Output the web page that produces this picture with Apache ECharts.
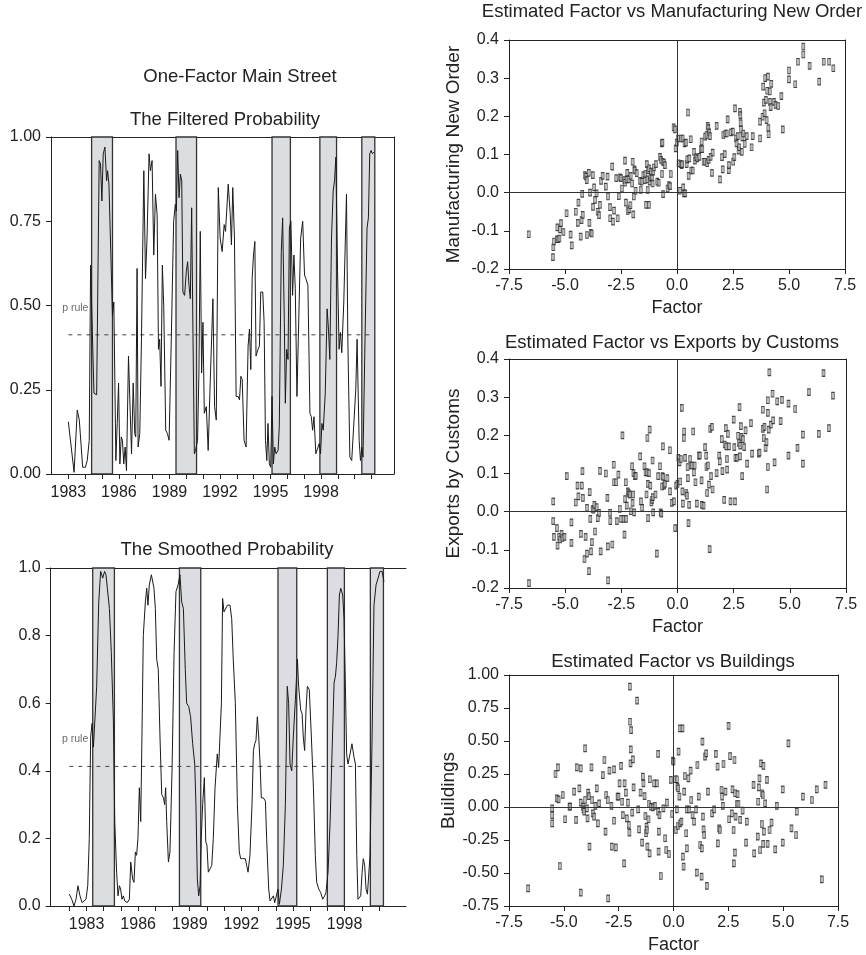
<!DOCTYPE html>
<html>
<head>
<meta charset="utf-8">
<script src="https://cdn.jsdelivr.net/npm/echarts@6/dist/echarts.min.js"></script>
<style>
html,body{margin:0;padding:0;background:#fff;}
#chart{width:866px;height:955px;}
</style>
</head>
<body>
<div id="chart"></div>
<script>
// ---------------- DATA ----------------
const filteredTicks = [1983,1984,1985,1986,1987,1988,1989,1990,1991,1992,1993,1994,1995,1996,1997,1998,1999,2000,2001];
const filteredLabels = [1983,1986,1989,1992,1995,1998];
const smoothedTicks = [1982,1983,1984,1985,1986,1987,1988,1989,1990,1991,1992,1993,1994,1995,1996,1997,1998,1999,2000];
const smoothedLabels = [1983,1986,1989,1992,1995,1998];
const pRule = 0.413;

const filteredRecessions = [[1984.38,1985.62],[1989.39,1990.61],[1995.09,1996.18],[1997.93,1998.92],[2000.42,2001.19]];
const smoothedRecessions = [[1983.36,1984.62],[1988.40,1989.64],[1994.13,1995.22],[1997.00,1997.99],[1999.50,2000.26]];

const filteredProb = [[1983.00,0.155],[1983.34,0.005],[1983.53,0.19],[1983.65,0.16],[1983.73,0.155],[1983.85,0.02],[1984.01,0.02],[1984.12,0.04],[1984.24,0.10],[1984.32,0.62],[1984.52,0.24],[1984.68,0.235],[1984.83,0.93],[1984.91,0.92],[1984.99,0.81],[1985.07,0.95],[1985.17,0.97],[1985.27,0.87],[1985.33,0.90],[1985.41,0.86],[1985.49,0.86],[1985.62,0.47],[1985.70,0.51],[1985.82,0.04],[1985.90,0.15],[1985.98,0.27],[1986.06,0.03],[1986.14,0.11],[1986.21,0.10],[1986.29,0.03],[1986.37,0.08],[1986.45,0.01],[1986.57,0.35],[1986.65,0.22],[1986.75,0.06],[1986.85,0.27],[1986.94,0.12],[1987.00,0.11],[1987.08,0.61],[1987.14,0.08],[1987.24,0.12],[1987.34,0.40],[1987.48,0.90],[1987.58,0.58],[1987.67,0.70],[1987.79,0.95],[1987.87,0.90],[1987.97,0.93],[1988.07,0.65],[1988.17,0.83],[1988.27,0.77],[1988.35,0.37],[1988.42,0.40],[1988.50,0.26],[1988.58,0.62],[1988.66,0.50],[1988.78,0.13],[1988.88,0.12],[1988.98,0.10],[1989.11,0.40],[1989.25,0.75],[1989.35,0.80],[1989.41,0.78],[1989.49,0.96],[1989.57,0.82],[1989.65,0.89],[1989.73,0.87],[1989.80,0.54],[1989.90,0.53],[1990.00,0.60],[1990.08,0.63],[1990.16,0.56],[1990.24,0.52],[1990.32,0.79],[1990.40,0.40],[1990.48,0.06],[1990.55,0.07],[1990.67,0.10],[1990.75,0.30],[1990.83,0.72],[1990.91,0.30],[1990.99,0.45],[1991.07,0.18],[1991.19,0.20],[1991.30,0.07],[1991.42,0.27],[1991.58,0.52],[1991.68,0.20],[1991.78,0.16],[1991.90,0.85],[1992.01,0.70],[1992.13,0.66],[1992.25,0.74],[1992.33,0.72],[1992.49,0.86],[1992.61,0.77],[1992.68,0.68],[1992.76,0.85],[1992.86,0.70],[1992.96,0.23],[1993.08,0.23],[1993.16,0.22],[1993.24,0.29],[1993.32,0.28],[1993.43,0.10],[1993.55,0.08],[1993.67,0.38],[1993.75,0.43],[1993.83,0.31],[1993.91,0.58],[1993.99,0.65],[1994.07,0.69],[1994.14,0.35],[1994.26,0.37],[1994.34,0.38],[1994.42,0.54],[1994.54,0.54],[1994.62,0.45],[1994.70,0.10],[1994.78,0.04],[1994.85,0.15],[1994.93,0.03],[1995.01,0.02],[1995.09,0.23],[1995.17,0.03],[1995.25,0.08],[1995.33,0.06],[1995.45,0.07],[1995.52,0.14],[1995.64,0.66],[1995.72,0.76],[1995.82,0.45],[1995.88,0.21],[1995.96,0.37],[1996.04,0.34],[1996.12,0.73],[1996.21,0.75],[1996.31,0.53],[1996.39,0.65],[1996.47,0.55],[1996.57,0.23],[1996.65,0.40],[1996.79,0.70],[1996.91,0.75],[1997.02,0.59],[1997.10,0.58],[1997.22,0.56],[1997.34,0.18],[1997.42,0.17],[1997.50,0.13],[1997.58,0.17],[1997.69,0.06],[1997.79,0.055],[1997.89,0.09],[1997.97,0.06],[1998.05,0.15],[1998.13,0.13],[1998.25,0.24],[1998.36,0.49],[1998.44,0.43],[1998.52,0.34],[1998.62,0.70],[1998.72,0.84],[1998.80,0.87],[1998.88,0.94],[1998.98,0.60],[1999.07,0.37],[1999.15,0.42],[1999.23,0.36],[1999.35,0.51],[1999.43,0.51],[1999.51,0.83],[1999.59,0.40],[1999.71,0.05],[1999.82,0.04],[1999.90,0.04],[2000.06,0.25],[2000.14,0.40],[2000.26,0.10],[2000.34,0.04],[2000.42,0.08],[2000.49,0.05],[2000.61,0.40],[2000.73,0.73],[2000.81,0.76],[2000.89,0.95],[2000.97,0.96],[2001.05,0.95],[2001.13,0.955]];

const smoothedProb = [[1982.00,0.035],[1982.14,0.02],[1982.27,0.0],[1982.39,0.02],[1982.50,0.06],[1982.62,0.03],[1982.74,0.01],[1982.85,0.01],[1982.97,0.02],[1983.07,0.06],[1983.16,0.20],[1983.24,0.50],[1983.32,0.54],[1983.40,0.47],[1983.49,0.47],[1983.59,0.65],[1983.71,0.90],[1983.82,0.99],[1983.94,0.97],[1984.05,0.99],[1984.13,0.98],[1984.21,0.94],[1984.33,0.88],[1984.44,0.75],[1984.56,0.55],[1984.64,0.25],[1984.75,0.10],[1984.83,0.03],[1984.91,0.06],[1984.98,0.05],[1985.06,0.02],[1985.14,0.03],[1985.22,0.015],[1985.29,0.02],[1985.37,0.01],[1985.49,0.02],[1985.57,0.13],[1985.68,0.08],[1985.76,0.07],[1985.84,0.16],[1985.91,0.15],[1985.99,0.20],[1986.07,0.35],[1986.15,0.25],[1986.22,0.50],[1986.30,0.80],[1986.42,0.90],[1986.50,0.94],[1986.57,0.89],[1986.65,0.95],[1986.77,0.98],[1986.84,0.98],[1986.92,0.94],[1987.00,0.88],[1987.08,0.73],[1987.17,0.70],[1987.27,0.50],[1987.37,0.33],[1987.47,0.32],[1987.54,0.30],[1987.60,0.35],[1987.66,0.25],[1987.76,0.13],[1987.85,0.16],[1987.97,0.40],[1988.09,0.75],[1988.20,0.93],[1988.32,0.95],[1988.43,0.98],[1988.53,0.90],[1988.63,0.88],[1988.74,0.70],[1988.82,0.60],[1988.94,0.59],[1989.05,0.56],[1989.17,0.48],[1989.29,0.42],[1989.36,0.30],[1989.44,0.08],[1989.52,0.03],[1989.60,0.06],[1989.67,0.20],[1989.75,0.30],[1989.85,0.38],[1989.93,0.19],[1990.00,0.18],[1990.08,0.10],[1990.18,0.11],[1990.28,0.12],[1990.37,0.20],[1990.47,0.35],[1990.60,0.45],[1990.68,0.41],[1990.76,0.41],[1990.84,0.60],[1990.91,0.91],[1990.99,0.87],[1991.07,0.87],[1991.19,0.89],[1991.34,0.89],[1991.44,0.85],[1991.53,0.73],[1991.65,0.60],[1991.77,0.30],[1991.88,0.16],[1991.96,0.14],[1992.08,0.14],[1992.23,0.14],[1992.31,0.12],[1992.39,0.10],[1992.50,0.15],[1992.62,0.30],[1992.70,0.46],[1992.78,0.48],[1992.85,0.49],[1992.93,0.56],[1993.01,0.50],[1993.09,0.42],[1993.16,0.32],[1993.28,0.32],[1993.40,0.31],[1993.47,0.20],[1993.59,0.05],[1993.67,0.015],[1993.78,0.01],[1993.86,0.03],[1993.94,0.01],[1994.05,0.015],[1994.13,0.05],[1994.21,0.005],[1994.33,0.05],[1994.44,0.12],[1994.56,0.30],[1994.67,0.65],[1994.75,0.60],[1994.83,0.42],[1994.93,0.40],[1995.02,0.50],[1995.14,0.61],[1995.26,0.73],[1995.33,0.65],[1995.45,0.58],[1995.53,0.57],[1995.60,0.50],[1995.68,0.46],[1995.76,0.58],[1995.84,0.65],[1995.95,0.64],[1996.07,0.50],[1996.19,0.35],[1996.30,0.15],[1996.38,0.07],[1996.50,0.05],[1996.61,0.04],[1996.73,0.02],[1996.84,0.03],[1996.92,0.04],[1997.04,0.10],[1997.16,0.25],[1997.27,0.45],[1997.39,0.66],[1997.47,0.68],[1997.54,0.72],[1997.62,0.80],[1997.70,0.92],[1997.78,0.94],[1997.89,0.92],[1997.97,0.85],[1998.05,0.65],[1998.12,0.45],[1998.20,0.42],[1998.32,0.45],[1998.43,0.48],[1998.55,0.44],[1998.63,0.42],[1998.71,0.15],[1998.78,0.02],[1998.86,0.015],[1998.94,0.03],[1999.02,0.10],[1999.09,0.14],[1999.17,0.12],[1999.25,0.05],[1999.33,0.035],[1999.40,0.04],[1999.48,0.15],[1999.60,0.50],[1999.71,0.89],[1999.83,0.95],[1999.95,0.97],[2000.06,0.99],[2000.18,0.99],[2000.29,0.96]];

const factorTicks = [-7.5,-5.0,-2.5,0.0,2.5,5.0,7.5];

const mnoPoints = [[-6.62,-0.109],[-5.54,-0.169],[-5.52,-0.143],[-5.49,-0.128],[-5.37,-0.122],[-5.30,-0.122],[-5.25,-0.12],[-5.34,-0.091],[-5.22,-0.096],[-5.18,-0.08],[-5.07,-0.103],[-4.93,-0.054],[-4.75,-0.11],[-4.70,-0.138],[-4.52,-0.05],[-4.43,-0.079],[-4.40,-0.026],[-4.30,-0.115],[-4.26,-0.072],[-4.23,-0.003],[-4.21,-0.058],[-4.11,0.046],[-4.06,0.042],[-4.03,0.033],[-4.02,-0.111],[-3.94,0.052],[-3.91,-0.079],[-3.88,0.0],[-3.85,-0.105],[-3.81,-0.107],[-3.76,0.046],[-3.75,-0.037],[-3.70,0.014],[-3.66,-0.019],[-3.59,-0.002],[-3.54,-0.05],[-3.48,-0.059],[-3.44,-0.032],[-3.39,0.031],[-3.32,0.044],[-3.18,0.016],[-3.10,0.042],[-3.08,-0.01],[-2.99,-0.038],[-2.98,-0.067],[-2.89,0.068],[-2.86,-0.076],[-2.81,-0.047],[-2.71,0.038],[-2.65,-0.067],[-2.60,-0.009],[-2.54,0.04],[-2.50,0.038],[-2.46,0.011],[-2.35,0.033],[-2.32,0.084],[-2.32,0.026],[-2.28,-0.026],[-2.25,0.035],[-2.22,0.052],[-2.20,-0.048],[-2.16,0.035],[-2.13,-0.044],[-2.08,-0.033],[-2.07,0.044],[-2.00,0.024],[-1.98,0.081],[-1.95,-0.057],[-1.93,-0.01],[-1.90,0.061],[-1.89,0.058],[-1.85,0.005],[-1.80,0.051],[-1.65,0.031],[-1.62,0.007],[-1.58,0.029],[-1.50,0.046],[-1.44,0.033],[-1.41,0.049],[-1.38,-0.032],[-1.35,0.075],[-1.32,0.035],[-1.31,0.007],[-1.29,0.059],[-1.26,-0.032],[-1.24,0.064],[-1.22,0.029],[-1.18,0.04],[-1.15,0.055],[-1.12,0.038],[-1.09,0.024],[-1.06,0.055],[-1.03,0.066],[-0.94,0.075],[-0.88,0.029],[-0.82,0.026],[-0.76,0.094],[-0.71,0.086],[-0.68,0.129],[-0.65,0.131],[-0.67,0.049],[-0.64,0.081],[-0.62,-0.004],[-0.58,0.079],[-0.54,0.072],[-0.42,0.011],[-0.36,0.02],[-0.31,0.017],[-0.28,0.049],[-0.15,0.171],[-0.09,0.166],[-0.06,0.116],[-0.01,0.131],[0.04,0.142],[0.07,0.077],[0.13,0.005],[0.16,0.075],[0.18,0.142],[0.21,0.072],[0.22,0.075],[0.25,0.142],[0.28,0.014],[0.31,-0.002],[0.34,0.129],[0.37,-0.002],[0.40,0.131],[0.43,0.075],[0.46,0.087],[0.49,0.21],[0.52,0.044],[0.55,0.09],[0.61,0.14],[0.64,0.058],[0.70,0.058],[0.76,0.107],[0.80,0.084],[0.85,0.093],[0.91,0.09],[1.00,0.094],[1.06,0.114],[1.10,0.134],[1.13,0.114],[1.19,0.081],[1.26,0.081],[1.26,0.147],[1.32,0.151],[1.35,0.077],[1.37,0.175],[1.40,0.169],[1.41,0.086],[1.44,0.158],[1.47,0.148],[1.50,0.094],[1.56,0.052],[1.59,0.105],[1.77,0.175],[1.92,0.035],[2.01,0.093],[2.04,0.061],[2.07,0.151],[2.13,0.101],[2.16,0.155],[2.22,0.155],[2.26,0.192],[2.31,0.059],[2.32,0.072],[2.41,0.158],[2.49,0.16],[2.51,0.081],[2.56,0.093],[2.59,0.221],[2.63,0.142],[2.66,0.129],[2.71,0.148],[2.75,0.11],[2.78,0.119],[2.81,0.212],[2.83,0.203],[2.84,0.182],[2.86,0.166],[2.89,0.107],[2.92,0.145],[2.96,0.155],[3.02,0.128],[3.11,0.148],[3.33,0.119],[3.38,0.148],[3.71,0.142],[3.71,0.186],[3.82,0.199],[3.85,0.278],[3.88,0.236],[3.91,0.208],[3.94,0.30],[3.97,0.243],[4.00,0.19],[4.03,0.267],[4.06,0.304],[4.08,0.169],[4.09,0.153],[4.14,0.265],[4.15,0.238],[4.18,0.224],[4.21,0.285],[4.33,0.238],[4.40,0.23],[4.52,0.227],[4.66,0.253],[4.72,0.166],[5.00,0.32],[5.00,0.297],[5.28,0.284],[5.40,0.343],[5.64,0.383],[5.64,0.362],[5.92,0.332],[6.35,0.291],[6.55,0.343],[6.79,0.343],[6.98,0.326]];

const exportPoints = [[-6.61,-0.187],[-5.53,0.027],[-5.53,-0.025],[-5.50,-0.066],[-5.37,-0.043],[-5.34,-0.089],[-5.27,-0.066],[-5.22,-0.073],[-5.16,-0.058],[-5.12,-0.069],[-5.03,-0.066],[-4.93,0.093],[-4.72,-0.028],[-4.72,-0.082],[-4.53,0.024],[-4.45,0.068],[-4.41,0.04],[-4.30,-0.058],[-4.26,0.068],[-4.23,0.106],[-4.21,0.036],[-4.14,-0.124],[-4.09,-0.066],[-4.03,0.01],[-4.03,-0.11],[-3.94,-0.156],[-3.91,0.051],[-3.88,-0.019],[-3.85,-0.104],[-3.81,-0.08],[-3.78,0.007],[-3.74,0.005],[-3.70,0.018],[-3.67,-0.052],[-3.60,0.012],[-3.55,-0.017],[-3.49,-0.003],[-3.45,0.107],[-3.42,-0.104],[-3.19,0.10],[-3.12,0.036],[-3.10,-0.091],[-3.09,-0.18],[-3.00,-0.003],[-2.99,-0.025],[-2.90,-0.086],[-2.84,0.123],[-2.82,0.077],[-2.73,0.077],[-2.70,-0.025],[-2.63,0.097],[-2.57,0.007],[-2.51,-0.019],[-2.45,0.20],[-2.40,-0.019],[-2.36,-0.06],[-2.33,0.033],[-2.30,0.077],[-2.29,-0.019],[-2.26,0.016],[-2.21,0.053],[-2.17,0.049],[-2.14,0.045],[-2.11,0.045],[-2.08,0.001],[-2.02,0.119],[-2.00,0.023],[-1.97,0.045],[-1.96,0.101],[-1.93,-0.002],[-1.90,0.093],[-1.86,0.094],[-1.66,0.145],[-1.63,0.027],[-1.57,0.01],[-1.47,0.119],[-1.42,0.103],[-1.38,0.045],[-1.35,0.103],[-1.34,0.193],[-1.32,0.073],[-1.31,-0.017],[-1.27,0.101],[-1.24,0.215],[-1.21,0.068],[-1.16,0.024],[-1.13,0.031],[-1.11,0.134],[-1.10,0.038],[-1.08,-0.002],[-0.98,0.045],[-0.92,-0.11],[-0.86,0.093],[-0.78,0.119],[-0.75,-0.002],[-0.72,-0.005],[-0.68,0.066],[-0.67,0.093],[-0.65,0.171],[-0.64,0.091],[-0.59,0.068],[-0.56,0.073],[-0.45,0.088],[-0.34,0.161],[-0.33,0.053],[-0.25,0.023],[-0.16,0.027],[-0.10,-0.043],[-0.06,0.068],[0.00,0.073],[0.04,0.141],[0.09,0.129],[0.12,0.079],[0.15,0.138],[0.19,0.272],[0.22,0.053],[0.24,0.021],[0.28,0.193],[0.30,0.21],[0.34,0.141],[0.39,0.049],[0.42,0.042],[0.45,0.117],[0.46,0.088],[0.49,-0.03],[0.52,0.018],[0.56,0.138],[0.59,0.121],[0.65,0.121],[0.70,0.21],[0.73,0.103],[0.76,0.121],[0.80,0.077],[0.86,0.021],[0.95,0.147],[0.99,0.147],[1.07,0.082],[1.08,0.018],[1.16,0.016],[1.23,0.169],[1.28,0.147],[1.29,0.117],[1.32,0.049],[1.35,0.121],[1.40,0.071],[1.43,-0.098],[1.46,0.217],[1.49,0.093],[1.53,0.222],[1.56,0.058],[1.74,0.101],[1.86,0.147],[1.88,0.132],[1.97,0.19],[2.00,0.106],[2.08,0.031],[2.10,0.176],[2.15,0.219],[2.17,0.171],[2.20,0.138],[2.21,0.11],[2.24,0.204],[2.29,0.171],[2.36,0.027],[2.50,0.241],[2.53,0.169],[2.56,0.027],[2.58,0.141],[2.64,0.141],[2.70,0.199],[2.73,0.18],[2.76,0.274],[2.78,0.145],[2.79,0.173],[2.82,0.224],[2.85,0.196],[2.88,0.093],[2.91,0.19],[2.97,0.169],[3.03,0.213],[3.10,0.126],[3.27,0.232],[3.32,0.152],[3.62,0.152],[3.65,0.155],[3.80,0.267],[3.80,0.217],[3.84,0.193],[3.87,0.222],[3.92,0.167],[3.96,0.182],[3.99,0.058],[4.02,0.117],[4.02,0.259],[4.02,0.292],[4.06,0.215],[4.09,0.365],[4.15,0.228],[4.23,0.309],[4.26,0.239],[4.32,0.129],[4.44,0.289],[4.59,0.237],[4.65,0.293],[4.94,0.283],[4.94,0.147],[5.24,0.269],[5.34,0.167],[5.58,0.202],[5.58,0.126],[5.85,0.313],[6.29,0.204],[6.50,0.363],[6.74,0.219],[6.92,0.304]];

const buildingPoints = [[-6.63,-0.616],[-5.53,-0.01],[-5.53,-0.061],[-5.53,-0.124],[-5.38,0.25],[-5.32,0.066],[-5.27,0.30],[-5.24,0.058],[-5.18,-0.447],[-5.05,0.091],[-4.94,-0.093],[-4.74,0.003],[-4.71,0.003],[-4.53,0.116],[-4.44,-0.098],[-4.41,0.30],[-4.29,0.141],[-4.23,0.293],[-4.23,-0.649],[-4.23,0.033],[-4.13,0.003],[-4.10,-0.018],[-4.07,-0.035],[-4.03,0.444],[-4.03,0.053],[-3.95,-0.01],[-3.92,-0.086],[-3.89,0.109],[-3.86,0.083],[-3.83,-0.30],[-3.74,0.30],[-3.71,0.053],[-3.68,-0.048],[-3.62,-0.073],[-3.56,0.008],[-3.50,0.141],[-3.45,-0.124],[-3.39,0.028],[-3.22,0.242],[-3.15,0.356],[-3.10,-0.187],[-3.07,0.091],[-3.00,0.053],[-2.98,-0.692],[-2.92,0.275],[-2.83,0.008],[-2.81,-0.30],[-2.71,0.285],[-2.71,-0.104],[-2.63,-0.306],[-2.55,0.078],[-2.51,0.078],[-2.46,0.179],[-2.39,0.311],[-2.34,0.04],[-2.31,-0.061],[-2.25,-0.427],[-2.23,0.179],[-2.17,0.109],[-2.13,-0.086],[-2.08,0.033],[-2.04,-0.136],[-2.01,-0.194],[-1.99,0.912],[-1.98,0.646],[-1.96,0.331],[-1.95,0.437],[-1.93,0.583],[-1.88,-0.043],[-1.85,0.361],[-1.82,0.149],[-1.66,0.806],[-1.61,-0.018],[-1.57,-0.169],[-1.50,0.109],[-1.43,-0.27],[-1.40,0.23],[-1.37,0.179],[-1.32,0.083],[-1.28,-0.068],[-1.25,-0.199],[-1.23,-0.149],[-1.22,-0.174],[-1.19,-0.30],[-1.14,-0.093],[-1.12,0.023],[-1.09,-0.351],[-1.08,0.21],[-1.03,0.003],[-0.94,-0.003],[-0.88,0.179],[-0.85,0.008],[-0.76,0.179],[-0.70,0.402],[-0.70,-0.035],[-0.68,-0.338],[-0.67,-0.187],[-0.64,-0.061],[-0.58,-0.523],[-0.46,-0.01],[-0.38,-0.237],[-0.33,-0.326],[-0.30,0.033],[-0.21,-0.356],[-0.12,0.205],[-0.06,-0.053],[-0.03,0.351],[0.00,0.343],[0.08,0.21],[0.11,-0.174],[0.15,-0.018],[0.15,0.21],[0.18,0.154],[0.20,-0.144],[0.21,0.141],[0.23,0.419],[0.27,0.078],[0.29,0.596],[0.30,-0.124],[0.36,-0.111],[0.41,0.596],[0.43,-0.376],[0.46,-0.452],[0.49,0.116],[0.52,0.235],[0.58,-0.199],[0.61,-0.018],[0.61,-0.313],[0.68,0.217],[0.71,-0.018],[0.78,0.275],[0.81,0.053],[0.87,-0.061],[0.94,-0.111],[1.03,-0.018],[1.06,-0.497],[1.09,0.318],[1.15,0.078],[1.22,-0.288],[1.28,-0.528],[1.29,-0.313],[1.32,0.495],[1.34,-0.073],[1.37,-0.169],[1.40,-0.212],[1.44,0.381],[1.49,0.406],[1.52,-0.598],[1.57,0.116],[1.76,-0.048],[1.85,-0.018],[1.93,0.402],[2.01,0.306],[2.02,-0.275],[2.08,-0.162],[2.11,-0.174],[2.19,0.129],[2.22,0.078],[2.25,0.008],[2.28,0.326],[2.37,0.116],[2.51,0.614],[2.54,-0.093],[2.58,0.386],[2.66,-0.048],[2.69,0.134],[2.74,-0.174],[2.75,-0.427],[2.78,0.356],[2.80,-0.346],[2.81,0.104],[2.83,-0.073],[2.89,0.023],[2.92,0.098],[2.96,0.023],[3.04,-0.098],[3.15,-0.028],[3.34,-0.111],[3.31,-0.27],[3.65,0.167],[3.68,-0.351],[3.84,-0.225],[3.86,0.04],[3.89,0.149],[3.92,0.217],[3.95,-0.326],[3.99,0.331],[4.03,-0.129],[4.04,0.104],[4.07,0.091],[4.09,-0.28],[4.10,0.311],[4.12,-0.187],[4.18,0.028],[4.26,0.205],[4.29,-0.28],[4.38,-0.174],[4.47,-0.119],[4.64,-0.321],[4.71,0.008],[4.98,0.134],[4.98,-0.27],[5.24,0.482],[5.38,-0.162],[5.59,-0.212],[5.62,-0.035],[5.90,0.078],[6.31,0.053],[6.53,0.134],[6.76,-0.548],[6.93,0.167]];

// ---------------- CHART ----------------
const FONT = "'Liberation Sans', Arial, Helvetica, sans-serif";
const INK = '#222';
const chart = echarts.init(document.getElementById('chart'), null, {renderer: 'canvas'});

function frameX(gi, pos, min, max) {
  return {type:'value', gridIndex:gi, position:pos, min, max,
    axisLine:{show:true, onZero:false, lineStyle:{color:INK, width:1}},
    axisTick:{show:false}, axisLabel:{show:false}, splitLine:{show:false}};
}
function frameY(gi, pos, min, max) {
  return {type:'value', gridIndex:gi, position:pos, min, max,
    axisLine:{show:true, onZero:false, lineStyle:{color:INK, width:1}},
    axisTick:{show:false}, axisLabel:{show:false}, splitLine:{show:false}};
}
const tickLabel = {fontSize:16, color:INK, fontFamily:FONT};

function timeX(gi, min, max, ticks, labels) {
  return {type:'value', gridIndex:gi, position:'bottom', min, max,
    axisLine:{show:true, onZero:false, lineStyle:{color:INK, width:1}},
    axisTick:{show:true, length:5, lineStyle:{color:INK}, customValues:ticks},
    axisLabel:Object.assign({margin:11, customValues:labels, formatter:v=>String(v)}, tickLabel),
    splitLine:{show:false}};
}
function probY(gi, interval, digits) {
  return {type:'value', gridIndex:gi, position:'left', min:0, max:1, interval,
    axisLine:{show:true, onZero:false, lineStyle:{color:INK, width:1}},
    axisTick:{show:true, length:5, lineStyle:{color:INK}},
    axisLabel:Object.assign({margin:10, formatter:v=>v.toFixed(digits)}, tickLabel),
    splitLine:{show:false}};
}
function factorX(gi) {
  return {type:'value', gridIndex:gi, position:'bottom', min:-7.5, max:7.5, interval:2.5,
    name:'Factor', nameLocation:'middle', nameGap:30,
    nameTextStyle:{fontSize:18, color:INK, fontFamily:FONT},
    axisLine:{show:true, onZero:false, lineStyle:{color:INK, width:1}},
    axisTick:{show:true, length:5, lineStyle:{color:INK}},
    axisLabel:Object.assign({margin:9, formatter:v=>v.toFixed(1)}, tickLabel),
    splitLine:{show:false}};
}
function scatY(gi, min, max, interval, digits, name) {
  return {type:'value', gridIndex:gi, position:'left', min, max, interval,
    name, nameLocation:'middle', nameGap:46, nameRotate:90,
    nameTextStyle:{fontSize:19, color:INK, fontFamily:FONT},
    axisLine:{show:true, onZero:false, lineStyle:{color:INK, width:1}},
    axisTick:{show:true, length:5, lineStyle:{color:INK}},
    axisLabel:Object.assign({margin:10, formatter:v=>v.toFixed(digits)}, tickLabel),
    splitLine:{show:false}};
}

const fMin = 1981.97, fMax = 2002.33;
const sMin = 1980.915, sMax = 2001.57;

const bandStyle = {color:'#dcdde0', borderColor:'#333', borderWidth:1.3};
function bands(xi, yi, rec) {
  return {type:'line', xAxisIndex:xi, yAxisIndex:yi, data:[], silent:true, z:1,
    markArea:{silent:true, itemStyle:bandStyle, data:rec.map(r=>[{xAxis:r[0]},{xAxis:r[1]}])}};
}
function probLine(xi, yi, data) {
  return {type:'line', xAxisIndex:xi, yAxisIndex:yi, data, showSymbol:false, symbol:'none', z:3,
    lineStyle:{color:'#1a1a1a', width:1}, silent:true};
}
function ruleLine(xi, yi, data) {
  const x0 = data[0][0], x1 = data[data.length-1][0];
  return {type:'line', xAxisIndex:xi, yAxisIndex:yi, data:[[x0,pRule],[x1,pRule]], symbol:'none', z:2,
    lineStyle:{color:'#444', width:1, type:[4,5]}, silent:true};
}
function ruleLabel(xi, yi, x) {
  return {type:'scatter', xAxisIndex:xi, yAxisIndex:yi, data:[[x, pRule + 0.08]], symbolSize:0, z:4, silent:true,
    label:{show:true, position:'left', distance:0, formatter:'p rule', fontSize:10.5, color:'#444', fontFamily:FONT}};
}
const markerStyle = {color:'#a8a8a8', borderColor:'#222', borderWidth:0.8};
function scat(xi, yi, data) {
  return {type:'scatter', xAxisIndex:xi, yAxisIndex:yi, data, symbol:'rect', symbolSize:[3,6.5],
    itemStyle:markerStyle, silent:true, z:3,
    markLine:{silent:true, symbol:['none','none'], label:{show:false},
      lineStyle:{color:'#333', width:1, type:'solid'}, data:[{xAxis:0},{yAxis:0}]}};
}

const titleFont = '18.5px ' + FONT;
function txt(x, y, text, font) {
  return {type:'text', x, y, silent:true,
    style:{text, fill:INK, font: font || titleFont, textAlign:'center', textVerticalAlign:'middle'}};
}

const option = {
  animation:false,
  backgroundColor:'#fff',
  textStyle:{fontFamily:FONT},
  grid:[
    {left:51, top:137, width:343, height:337},
    {left:50.67, top:568, width:355.3, height:338},
    {left:509, top:40, width:336, height:229},
    {left:509, top:359, width:337, height:229},
    {left:509, top:675, width:329, height:231}
  ],
  xAxis:[
    timeX(0, fMin, fMax, filteredTicks, filteredLabels), // 0
    frameX(0, 'top', fMin, fMax),                        // 1
    timeX(1, sMin, sMax, smoothedTicks, smoothedLabels), // 2
    frameX(1, 'top', sMin, sMax),                        // 3
    factorX(2), frameX(2, 'top', -7.5, 7.5),             // 4,5
    factorX(3), frameX(3, 'top', -7.5, 7.5),             // 6,7
    factorX(4), frameX(4, 'top', -7.5, 7.5)              // 8,9
  ],
  yAxis:[
    probY(0, 0.25, 2),                                   // 0
    frameY(0, 'right', 0, 1),                            // 1
    probY(1, 0.2, 1),                                    // 2
    scatY(2, -0.2, 0.4, 0.1, 1, 'Manufacturing New Order'), // 3
    frameY(2, 'right', -0.2, 0.4),                       // 4
    scatY(3, -0.2, 0.4, 0.1, 1, 'Exports by Customs'),   // 5
    frameY(3, 'right', -0.2, 0.4),                       // 6
    scatY(4, -0.75, 1.0, 0.25, 2, 'Buildings'),          // 7
    frameY(4, 'right', -0.75, 1.0)                       // 8
  ],
  series:[
    bands(0, 0, filteredRecessions),
    ruleLine(0, 0, filteredProb),
    probLine(0, 0, filteredProb),
    ruleLabel(0, 0, 1984.19),
    bands(2, 2, smoothedRecessions),
    ruleLine(2, 2, smoothedProb),
    probLine(2, 2, smoothedProb),
    ruleLabel(2, 2, 1983.10),
    scat(4, 3, mnoPoints),
    scat(6, 5, exportPoints),
    scat(8, 7, buildingPoints)
  ],
  graphic:[
    txt(240, 77, 'One-Factor Main Street'),
    txt(225, 120, 'The Filtered Probability'),
    txt(227, 550, 'The Smoothed Probability'),
    txt(672, 12, 'Estimated Factor vs Manufacturing New Order'),
    txt(672, 343, 'Estimated Factor vs Exports by Customs'),
    txt(673, 662, 'Estimated Factor vs Buildings')
  ]
};
chart.setOption(option);
</script>
</body>
</html>
